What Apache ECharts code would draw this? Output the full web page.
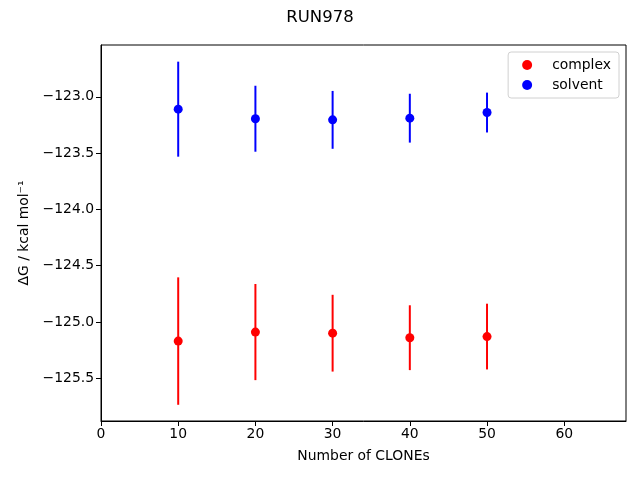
<!DOCTYPE html>
<html>
<head>
<meta charset="utf-8">
<script src="https://cdn.jsdelivr.net/npm/echarts@6/dist/echarts.min.js"></script>
<style>
  html, body { margin: 0; padding: 0; background: #fff; }
  #chart { width: 640px; height: 480px; }
</style>
</head>
<body>
<div id="chart"></div>
<script>
// number of CLONEs
var clones = [10, 20, 30, 40, 50];

// free energies (kcal/mol) and their error bar half-widths
var complexDG = [-125.17, -125.09, -125.10, -125.14, -125.13];
var complexErr = [0.566, 0.427, 0.341, 0.288, 0.292];
var solventDG = [-123.11, -123.195, -123.205, -123.19, -123.14];
var solventErr = [0.422, 0.293, 0.257, 0.217, 0.177];

var xTicks = [0, 10, 20, 30, 40, 50, 60];
var yTicks = [-125.5, -125.0, -124.5, -124.0, -123.5, -123.0];

var font = "DejaVu Sans";

function points(ys) {
  return clones.map(function (x, i) { return [x, ys[i]]; });
}

function bars(ys, errs) {
  return clones.map(function (x, i) { return [x, ys[i] - errs[i], ys[i] + errs[i]]; });
}

function errorBarSeries(name, ys, errs, color) {
  return {
    name: name,
    type: "custom",
    z: 1,
    silent: true,
    data: bars(ys, errs),
    encode: { x: 0, y: [1, 2] },
    renderItem: function (params, api) {
      var lo = api.coord([api.value(0), api.value(1)]);
      var hi = api.coord([api.value(0), api.value(2)]);
      return {
        type: "line",
        shape: { x1: lo[0], y1: lo[1], x2: hi[0], y2: hi[1] },
        style: { stroke: color, lineWidth: 2 }
      };
    }
  };
}

var myChart = echarts.init(document.getElementById("chart"));

myChart.setOption({
  animation: false,
  title: {
    text: "RUN978",
    left: "center",
    top: 4,
    textStyle: { fontFamily: font, fontSize: 16.5, fontWeight: "normal", color: "#000" }
  },
  legend: {
    orient: "vertical",
    right: 21,
    top: 52,
    data: ["complex", "solvent"],
    icon: "circle",
    itemWidth: 10,
    itemHeight: 10,
    itemGap: 6,
    padding: [6, 8, 6, 14],
    borderColor: "#d0d0d0",
    borderWidth: 1,
    borderRadius: 3,
    backgroundColor: "#fff",
    textStyle: { fontFamily: font, fontSize: 13.9, color: "#000", padding: [0, 0, 0, 15] }
  },
  grid: {
    left: 101,
    right: 14,
    top: 45,
    bottom: 59,
    show: true,
    borderColor: "#000",
    borderWidth: 1
  },
  xAxis: {
    type: "value",
    min: 0,
    max: 68,
    name: "Number of CLONEs",
    nameLocation: "middle",
    nameGap: 28,
    nameTextStyle: { fontFamily: font, fontSize: 13.9, color: "#000" },
    axisLine: { lineStyle: { color: "#000" } },
    axisTick: { customValues: xTicks, length: 5, lineStyle: { color: "#000" } },
    axisLabel: {
      customValues: xTicks,
      fontFamily: font,
      fontSize: 13.9,
      color: "#000",
      margin: 6
    },
    splitLine: { show: false }
  },
  yAxis: {
    type: "value",
    min: -125.88,
    max: -122.54,
    name: "ΔG / kcal mol⁻¹",
    nameLocation: "middle",
    nameGap: 69,
    nameTextStyle: { fontFamily: font, fontSize: 13.9, color: "#000" },
    axisLine: { lineStyle: { color: "#000" } },
    axisTick: { customValues: yTicks, length: 5, lineStyle: { color: "#000" } },
    axisLabel: {
      customValues: yTicks,
      fontFamily: font,
      fontSize: 13.9,
      color: "#000",
      margin: 7,
      formatter: function (v) { return v.toFixed(1).replace("-", "\u2212"); }
    },
    splitLine: { show: false }
  },
  series: [
    {
      name: "complex",
      type: "scatter",
      z: 3,
      symbol: "circle",
      symbolSize: 9,
      itemStyle: { color: "#ff0000", opacity: 1 },
      data: points(complexDG)
    },
    {
      name: "solvent",
      type: "scatter",
      z: 3,
      symbol: "circle",
      symbolSize: 9,
      itemStyle: { color: "#0000ff", opacity: 1 },
      data: points(solventDG)
    },
    errorBarSeries("complex error", complexDG, complexErr, "#ff0000"),
    errorBarSeries("solvent error", solventDG, solventErr, "#0000ff")
  ]
});
</script>
</body>
</html>
